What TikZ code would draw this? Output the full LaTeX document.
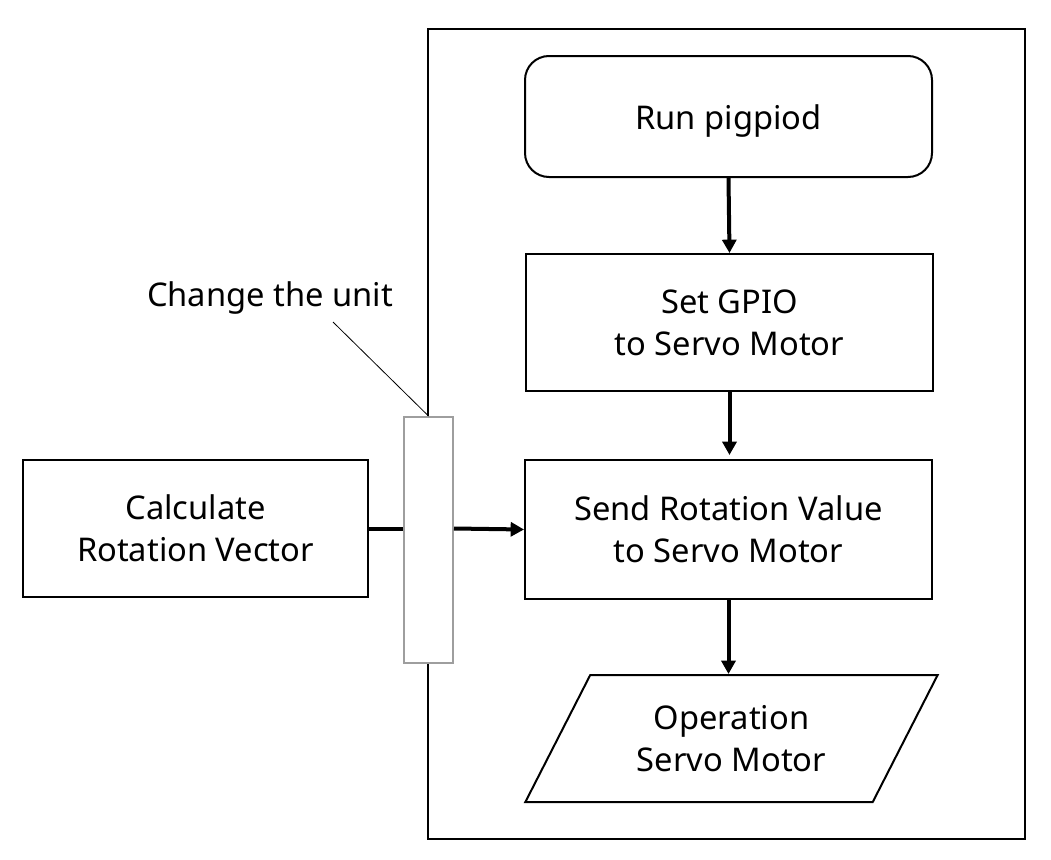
\documentclass[tikz,border=0pt]{standalone}
\usepackage{fontspec}
\setmainfont{Noto Sans}
\usetikzlibrary{arrows.meta,shapes.geometric}
\tikzset{
  txt/.style={font=\fontsize{24.5}{31.5}\selectfont},
  box/.style={draw, line width=1.5pt, align=center, inner sep=0pt, txt},
  flow/.style={line width=3pt, -{Triangle[length=10pt,width=10.5pt]}},
}
\begin{document}
\begin{tikzpicture}[x=0.75pt,y=-0.75pt]
\useasboundingbox[fill=white] (0,0) rectangle (1051,860);
% frame
\node[draw, line width=1.5pt, minimum width=447.75pt, minimum height=607.5pt, inner sep=0pt] (frame) at (726.5,434) {};
% nodes
\node[box, rounded corners=18pt, minimum width=305.25pt, minimum height=90.75pt] (run) at (728.5,116.5) {\raisebox{-3.5pt}[\height][\depth]{Run pigpiod}};
\node[box, minimum width=305.25pt, minimum height=102.75pt] (set) at (729.5,322.5) {Set GPIO\\to Servo Motor};
\node[box, minimum width=305.25pt, minimum height=104.25pt] (send) at (728.5,529.5) {Send Rotation Value\\to Servo Motor};
\node[box, trapezium, trapezium left angle=56.8, trapezium right angle=123.2, trapezium stretches=true, minimum width=309.75pt, minimum height=95.25pt] (op) at (731.5,738.5) {Operation\\Servo Motor};
\node[box, minimum width=258.75pt, minimum height=102.75pt] (calc) at (195.5,528.5) {Calculate\\Rotation Vector};
\node[draw=black!38, fill=white, line width=1.5pt, minimum width=36.75pt, minimum height=184.5pt, inner sep=0pt] (gray) at (428.5,540) {};
% label
\node[txt, inner sep=0pt] (lbl) at (270,298) {Change the unit};
\coordinate (lead) at (333,322);
\draw[line width=0.6pt] (lead) -- (gray.north);
% connectors
\draw[flow] (run.south) -- (set.north);
\draw[flow, shorten >=3pt] (set.south) -- (set.south |- send.north);
\draw[flow] (send.south) -- (send.south |- op.north);
\draw[line width=3pt] (calc.east) -- (calc.east -| gray.west);
\draw[flow] (calc.east -| gray.east) -- (send.west);
\end{tikzpicture}
\end{document}
